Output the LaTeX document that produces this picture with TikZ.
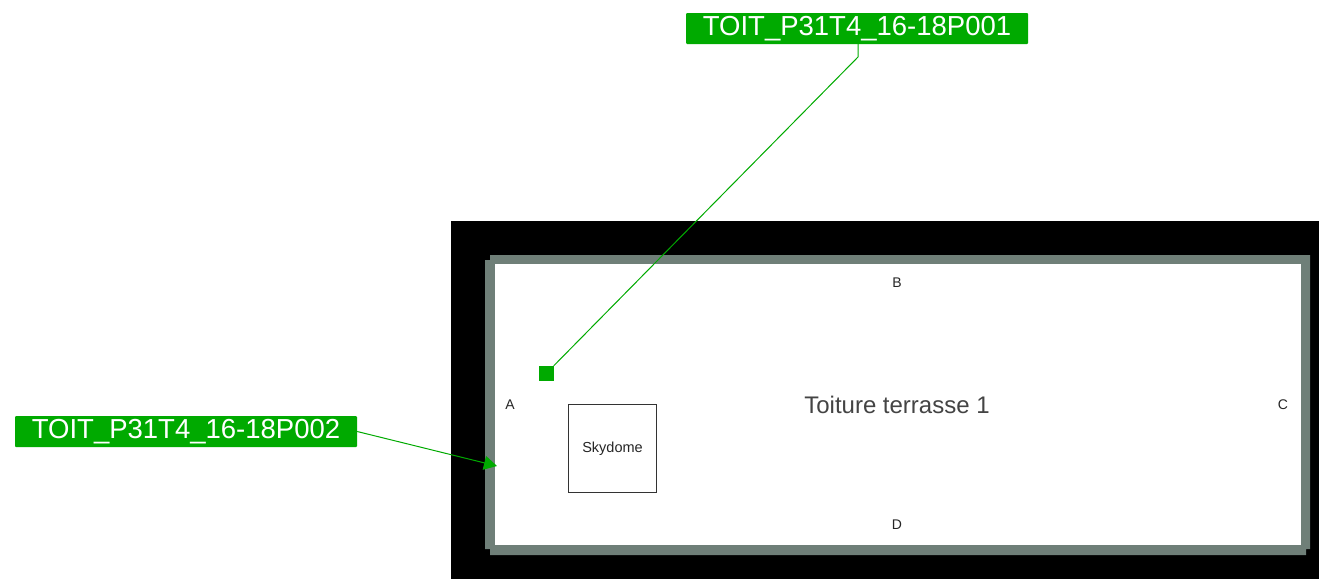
\documentclass[tikz,border=0pt]{standalone}
\usepackage{fontspec}
\usepackage{tikz}
\usetikzlibrary{arrows.meta}
\setmainfont{Liberation Sans}
\definecolor{tagGreen}{HTML}{00AA00}
\definecolor{wallGrey}{HTML}{6F7F78}
\definecolor{textGrey}{HTML}{444444}
\tikzset{
  tag/.style={fill=tagGreen,text=white,rounded corners=1pt,inner sep=0pt,minimum width=342pt,minimum height=31pt,font=\fontsize{27.5}{30}\selectfont},
  side/.style={text=black!85,font=\fontsize{14}{16}\selectfont,inner sep=0pt},
  link/.style={tagGreen,line width=1pt}
}
\begin{document}
\begin{tikzpicture}[x=1pt,y=-1pt]
\useasboundingbox (0,0) rectangle (1319,579);
\fill[black] (451,221) rectangle (1319,579);
\fill[wallGrey] (490,255) -- (1310,255) -- (1310,549) -- (1306,549) -- (1306,555) -- (490,555) -- (490,549) -- (485,549) -- (485,260) -- (490,260) -- cycle;
\fill[white] (495,264) rectangle (1301,545);
\node[draw=black!80,line width=1pt,minimum size=88pt,inner sep=0pt,font=\fontsize{14.5}{16}\selectfont,text=black!85] (skydome) at (612.5,448.5) {Skydome};
\node[side] (sideA) at (510,405) {A};
\node[side] (sideB) at (897,283) {B};
\node[side] (sideC) at (1283,405) {C};
\node[side] (sideD) at (897,525) {D};
\node[text=textGrey,inner sep=0pt,font=\fontsize{24}{28}\selectfont] (roof) at (897,405) {Toiture terrasse 1};
\node[tag] (tagOne) at (857,28.5) {TOIT\_P31T4\_16-18P001};
\node[tag] (tagTwo) at (186,431.5) {TOIT\_P31T4\_16-18P002};
\node[fill=tagGreen,minimum size=15pt,inner sep=0pt] (marker) at (546,373.5) {};
\coordinate (bend) at (858,57);
\coordinate (wall) at (497,466);
\draw[link] (tagOne.south -| bend) -- (bend) -- (marker.north east);
\draw[link,-{Triangle[length=13pt,width=14pt]}] (tagTwo.east) -- (wall);
\end{tikzpicture}
\end{document}
